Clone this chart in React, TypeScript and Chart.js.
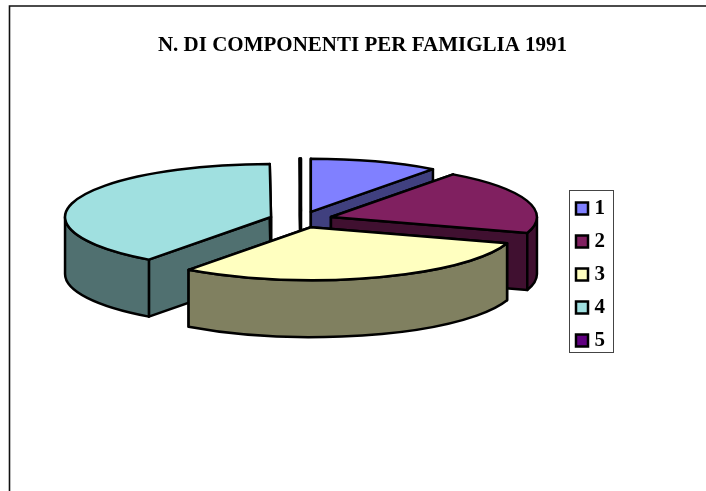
import React, { useEffect, useRef } from "react";
import { Chart, registerables } from "chart.js";

Chart.register(...registerables);

const titleText = "N. DI COMPONENTI PER FAMIGLIA 1991";
const categories = ["1", "2", "3", "4", "5"];
const shares = [10.1, 19.8, 30.2, 39.8, 0.1];
const topColors = ["#8080FF", "#802060", "#FFFFC0", "#A0E0E0", "#600080"];
const wallColors = ["#40407F", "#401030", "#808060", "#507070", "#300040"];

const SQUASH = 0.257;
const DEPTH = 57;
const EDGE = 2.5;

const pie3d = {
  id: "pie3d",
  afterLayout(chart: any) {
    const t = chart.titleBlock;
    t.left = 7;
    t.right = 718;
    const l = chart.legend;
    l.left = 568;
    l.right = 640;
    l.top = 186;
    l.bottom = 480;
  },
  beforeDraw(chart: any) {
    const ctx = chart.ctx;
    ctx.save();
    ctx.fillStyle = "#ffffff";
    ctx.fillRect(0, 0, chart.width, chart.height);
    ctx.strokeStyle = "#111111";
    ctx.lineWidth = 1.6;
    ctx.beginPath();
    ctx.moveTo(9.5, chart.height);
    ctx.lineTo(9.5, 6);
    ctx.lineTo(chart.width, 6);
    ctx.stroke();
    ctx.strokeStyle = "#444444";
    ctx.lineWidth = 1;
    ctx.strokeRect(569.5, 190.5, 44, 162);
    ctx.restore();
  },
  beforeDatasetsDraw(chart: any) {
    const ctx = chart.ctx;
    const arcs = chart.getDatasetMeta(0).data.map((el: any, i: number) => {
      const mid = (el.startAngle + el.endAngle) / 2;
      const off = el.options.offset || 0;
      return {
        i,
        el,
        mid,
        ox: el.x + Math.cos(mid) * off,
        oy: el.y + Math.sin(mid) * off * SQUASH,
      };
    });
    arcs.sort((a: any, b: any) => Math.sin(a.mid) - Math.sin(b.mid));
    ctx.save();
    ctx.lineWidth = EDGE;
    ctx.lineJoin = "round";
    ctx.strokeStyle = "#000000";
    for (const { i, el, ox, oy } of arcs) {
      const R = el.outerRadius;
      const b = R * SQUASH;
      const a0 = el.startAngle;
      const a1 = el.endAngle;
      ctx.fillStyle = wallColors[i];
      for (const a of [a0, a1]) {
        const px = ox + R * Math.cos(a);
        const py = oy + b * Math.sin(a);
        ctx.beginPath();
        ctx.moveTo(ox, oy);
        ctx.lineTo(px, py);
        ctx.lineTo(px, py + DEPTH);
        ctx.lineTo(ox, oy + DEPTH);
        ctx.closePath();
        ctx.fill();
        ctx.stroke();
      }
      const lo = Math.max(a0, 0);
      const hi = Math.min(a1, Math.PI);
      if (lo < hi) {
        ctx.beginPath();
        ctx.ellipse(ox, oy, R, b, 0, lo, hi);
        ctx.ellipse(ox, oy + DEPTH, R, b, 0, hi, lo, true);
        ctx.closePath();
        ctx.fill();
        ctx.stroke();
      }
      ctx.fillStyle = topColors[i];
      ctx.beginPath();
      ctx.moveTo(ox, oy);
      ctx.ellipse(ox, oy, R, b, 0, a0, a1);
      ctx.closePath();
      ctx.fill();
      ctx.stroke();
    }
    ctx.restore();
    return false;
  },
};

export default function App() {
  const ref = useRef<HTMLCanvasElement>(null);
  useEffect(() => {
    const chart = new Chart(ref.current!, {
      type: "pie",
      data: {
        labels: categories,
        datasets: [
          {
            data: shares,
            backgroundColor: topColors,
            borderColor: "#000000",
            borderWidth: EDGE,
            offset: 31.5,
          },
        ],
      },
      options: {
        responsive: false,
        animation: false,
        events: [],
        radius: 206,
        layout: { padding: { left: 0, right: 104, top: 0, bottom: 112 } },
        plugins: {
          tooltip: { enabled: false },
          title: {
            display: true,
            text: titleText,
            color: "#000000",
            font: { family: "'Liberation Serif'", size: 21, weight: "bold", lineHeight: 1.2 },
            padding: { top: 33.4, bottom: 1.4 },
          },
          legend: {
            position: "chartArea",
            align: "start",
            labels: {
              color: "#000000",
              usePointStyle: true,
              pointStyle: "rect",
              boxWidth: 4,
              boxHeight: 12,
              padding: 12,
              font: { family: "'Liberation Serif'", size: 21, weight: "bold" },
            },
          },
        },
      } as any,
      plugins: [pie3d as any],
    });
    return () => chart.destroy();
  }, []);
  return (
    <div style={{ position: "fixed", left: 0, top: 0, width: 706, height: 491, overflow: "hidden" }}>
      <canvas ref={ref} width={706} height={491} style={{ display: "block" }} />
    </div>
  );
}
